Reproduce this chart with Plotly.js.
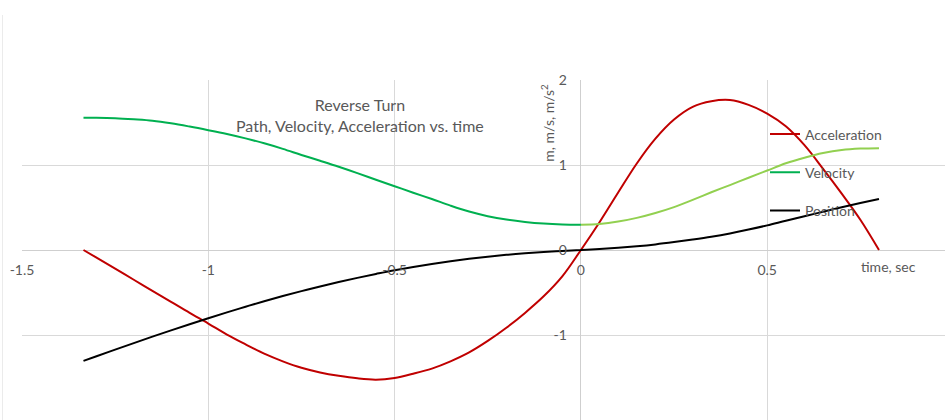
<!DOCTYPE html>
<html>
<head>
<meta charset="utf-8">
<script src="https://cdn.plot.ly/plotly-3.0.1.min.js"></script>
<style>
  html, body { margin: 0; padding: 0; background: #ffffff; }
  #chart { width: 945px; height: 420px; }
</style>
</head>
<body>
<div id="chart"></div>
<script>
// Reverse turn: position, velocity and acceleration sampled over time (s)
const time = [-1.335, -1.3, -1.25, -1.2, -1.15, -1.1, -1.05, -1.0, -0.95, -0.9,
              -0.85, -0.8, -0.75, -0.7, -0.65, -0.6, -0.55, -0.5, -0.45, -0.4,
              -0.35, -0.3, -0.25, -0.2, -0.15, -0.1, -0.05, 0,
              0.05, 0.1, 0.15, 0.2, 0.25, 0.3, 0.35, 0.4, 0.45, 0.5,
              0.55, 0.6, 0.65, 0.7, 0.75, 0.8];

const acceleration = [0, -0.09, -0.22, -0.35, -0.48, -0.61, -0.74, -0.865, -0.995, -1.11,
                      -1.22, -1.31, -1.385, -1.44, -1.48, -1.51, -1.525, -1.505, -1.455, -1.395,
                      -1.31, -1.205, -1.07, -0.915, -0.74, -0.545, -0.31, 0,
                      0.327, 0.676, 1.018, 1.31, 1.535, 1.684, 1.75, 1.764, 1.707, 1.604,
                      1.455, 1.233, 0.955, 0.663, 0.356, 0];

const velocity = [1.557, 1.556, 1.55, 1.537, 1.52, 1.49, 1.452, 1.41, 1.365, 1.313,
                  1.255, 1.19, 1.118, 1.05, 0.98, 0.905, 0.826, 0.75, 0.674, 0.6,
                  0.522, 0.452, 0.398, 0.358, 0.33, 0.311, 0.301, 0.298,
                  0.306, 0.334, 0.378, 0.436, 0.505, 0.59, 0.679, 0.764, 0.85, 0.935,
                  1.02, 1.086, 1.14, 1.176, 1.193, 1.198];

const position = [-1.305, -1.25, -1.172, -1.095, -1.019, -0.945, -0.873, -0.803, -0.734, -0.667,
                  -0.603, -0.542, -0.484, -0.429, -0.377, -0.328, -0.282, -0.238, -0.199, -0.164,
                  -0.132, -0.104, -0.079, -0.057, -0.039, -0.024, -0.012, 0,
                  0.012, 0.026, 0.044, 0.066, 0.093, 0.123, 0.156, 0.195, 0.24, 0.29,
                  0.345, 0.398, 0.45, 0.502, 0.552, 0.60];

const xTickVals = [-1.5, -1, -0.5, 0, 0.5, 1];
const xTickText = ['-1.5', '-1', '-0.5', '0', '0.5', '1'];
const yTickVals = [-2, -1, 0, 1, 2];
const yTickText = ['-2', '-1', '0', '1', '2'];

const FONT = 'Lato, "Liberation Sans", sans-serif';
const GREY = '#595959';

// plot-area geometry (pixels)
const W = 945, H = 420;
const M = { l: 22, r: 0, t: 80, b: 0 };
const plotW = W - M.l - M.r, plotH = H - M.t - M.b;
const xRange = [-1.5, -1.5 + plotW / 372.6];
const yRange = [-2, 2];
const px2x = p => (p - M.l) / plotW;
const px2y = p => 1 - (p - M.t) / plotH;

// velocity is drawn darker before the turn point and lighter after it
const negIdx = time.map((t, i) => i).filter(i => time[i] <= 0);
const posIdx = time.map((t, i) => i).filter(i => time[i] >= 0);
const pick = (arr, idx) => idx.map(i => arr[i]);

const lineBase = { type: 'scatter', mode: 'lines', hoverinfo: 'skip' };
const curve = color => ({ color: color, width: 2, shape: 'spline', smoothing: 1 });

const traces = [
  Object.assign({}, lineBase, {
    name: 'Acceleration', x: time, y: acceleration, legendgroup: 'a',
    line: curve('#C00000')
  }),
  Object.assign({}, lineBase, {
    name: 'Velocity', x: pick(time, negIdx), y: pick(velocity, negIdx), legendgroup: 'v',
    line: curve('#00B050')
  }),
  Object.assign({}, lineBase, {
    name: 'Velocity', x: pick(time, posIdx), y: pick(velocity, posIdx), legendgroup: 'v',
    showlegend: false,
    line: curve('#92D050')
  }),
  Object.assign({}, lineBase, {
    name: 'Position', x: time, y: position, legendgroup: 'p',
    line: curve('#000000')
  })
];

const layout = {
  width: W, height: H,
  margin: M,
  paper_bgcolor: '#ffffff',
  plot_bgcolor: '#ffffff',
  font: { family: FONT, size: 14, color: GREY },
  showlegend: true,
  legend: {
    x: px2x(765), xanchor: 'left',
    y: px2y(118.5), yanchor: 'top',
    bgcolor: 'rgba(0,0,0,0)',
    font: { family: FONT, size: 14, color: GREY },
    traceorder: 'grouped',
    tracegroupgap: 17,
    itemwidth: 30
  },
  xaxis: {
    range: xRange,
    tickvals: xTickVals, ticktext: xTickText,
    showgrid: true, gridcolor: '#D9D9D9', gridwidth: 1,
    zeroline: true, zerolinecolor: '#CFCFCF', zerolinewidth: 1,
    showline: false, ticks: '',
    anchor: 'free', position: 0.5,
    ticklabelstandoff: 10,
    tickfont: { family: FONT, size: 14, color: GREY },
    fixedrange: true
  },
  yaxis: {
    range: yRange,
    tickvals: yTickVals, ticktext: yTickText,
    showgrid: true, gridcolor: '#D9D9D9', gridwidth: 1,
    zeroline: true, zerolinecolor: '#CFCFCF', zerolinewidth: 1,
    showline: false, ticks: '',
    anchor: 'free', position: (0 - xRange[0]) / (xRange[1] - xRange[0]),
    ticklabelstandoff: 14,
    tickfont: { family: FONT, size: 14, color: GREY },
    fixedrange: true
  },
  annotations: [
    {
      text: 'Reverse Turn<br>Path, Velocity, Acceleration vs. time',
      xref: 'paper', yref: 'paper', x: px2x(359.5), y: px2y(115.5),
      xanchor: 'center', yanchor: 'middle', showarrow: false,
      font: { family: FONT, size: 16, color: GREY }
    },
    {
      text: 'm, m/s, m/s<sup>2</sup>', textangle: -90,
      xref: 'paper', yref: 'paper', x: px2x(546.7), y: px2y(123),
      xanchor: 'center', yanchor: 'middle', showarrow: false,
      font: { family: FONT, size: 14, color: GREY }
    },
    {
      text: 'time, sec',
      xref: 'paper', yref: 'paper', x: px2x(888), y: px2y(266),
      xanchor: 'center', yanchor: 'middle', showarrow: false,
      font: { family: FONT, size: 14, color: GREY }
    }
  ],
  shapes: [
    { // chart area frame edge
      type: 'line', xref: 'paper', yref: 'paper', layer: 'below',
      x0: px2x(2.5), x1: px2x(2.5), y0: px2y(15), y1: px2y(420),
      line: { color: '#EBEBEB', width: 1 }
    }
  ]
};

Plotly.newPlot('chart', traces, layout, { displayModeBar: false, staticPlot: true });
</script>
</body>
</html>
